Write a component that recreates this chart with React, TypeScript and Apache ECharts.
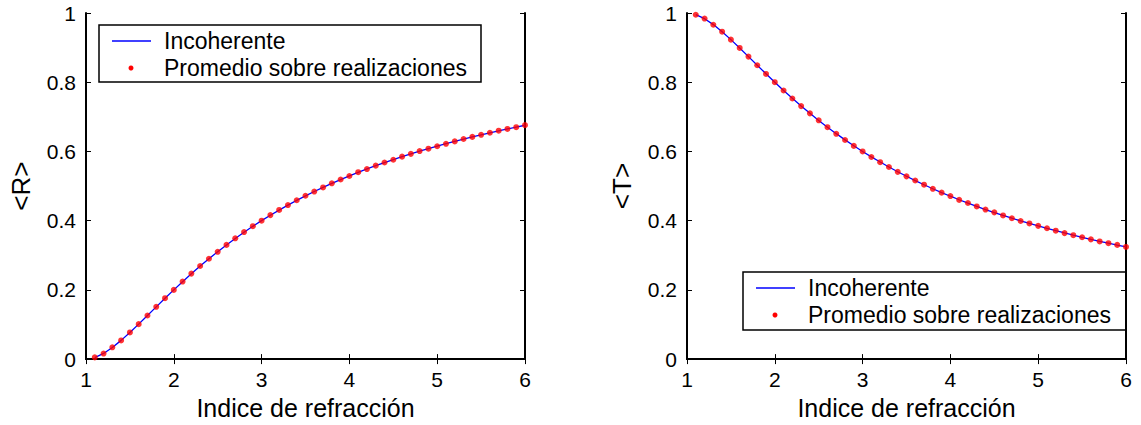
import React, { useEffect, useRef } from "react";
import * as echarts from "echarts";

const indices = [
  1.1, 1.2, 1.3, 1.4, 1.5, 1.6, 1.7, 1.8, 1.9, 2.0,
  2.1, 2.2, 2.3, 2.4, 2.5, 2.6, 2.7, 2.8, 2.9, 3.0,
  3.1, 3.2, 3.3, 3.4, 3.5, 3.6, 3.7, 3.8, 3.9, 4.0,
  4.1, 4.2, 4.3, 4.4, 4.5, 4.6, 4.7, 4.8, 4.9, 5.0,
  5.1, 5.2, 5.3, 5.4, 5.5, 5.6, 5.7, 5.8, 5.9, 6.0,
];

const rIncoherente = [
  0.0045, 0.0164, 0.0335, 0.0541, 0.0769, 0.1011, 0.126, 0.1509, 0.1757, 0.2,
  0.2237, 0.2466, 0.2687, 0.2899, 0.3103, 0.3299, 0.3486, 0.3665, 0.3836, 0.4,
  0.4156, 0.4306, 0.4449, 0.4586, 0.4717, 0.4842, 0.4963, 0.5078, 0.5188, 0.5294,
  0.5396, 0.5494, 0.5587, 0.5678, 0.5765, 0.5848, 0.5929, 0.6007, 0.6082, 0.6154,
  0.6224, 0.6291, 0.6356, 0.6419, 0.648, 0.6539, 0.6596, 0.6651, 0.6705, 0.6757,
];

const rPromedio = [
  0.005, 0.016, 0.034, 0.054, 0.077, 0.101, 0.126, 0.151, 0.176, 0.2,
  0.224, 0.247, 0.269, 0.29, 0.31, 0.33, 0.349, 0.367, 0.384, 0.4,
  0.416, 0.431, 0.445, 0.459, 0.472, 0.484, 0.496, 0.508, 0.519, 0.529,
  0.54, 0.549, 0.559, 0.568, 0.576, 0.585, 0.593, 0.601, 0.608, 0.615,
  0.622, 0.629, 0.636, 0.642, 0.648, 0.654, 0.66, 0.665, 0.67, 0.676,
];

const tIncoherente = [
  0.9955, 0.9836, 0.9665, 0.9459, 0.9231, 0.8989, 0.874, 0.8491, 0.8243, 0.8,
  0.7763, 0.7534, 0.7313, 0.7101, 0.6897, 0.6701, 0.6514, 0.6335, 0.6164, 0.6,
  0.5844, 0.5694, 0.5551, 0.5414, 0.5283, 0.5158, 0.5037, 0.4922, 0.4812, 0.4706,
  0.4604, 0.4506, 0.4413, 0.4322, 0.4235, 0.4152, 0.4071, 0.3993, 0.3918, 0.3846,
  0.3776, 0.3709, 0.3644, 0.3581, 0.352, 0.3461, 0.3404, 0.3349, 0.3295, 0.3243,
];

const tPromedio = [
  0.995, 0.984, 0.966, 0.946, 0.923, 0.899, 0.874, 0.849, 0.824, 0.8,
  0.776, 0.753, 0.731, 0.71, 0.69, 0.67, 0.651, 0.633, 0.616, 0.6,
  0.584, 0.569, 0.555, 0.541, 0.528, 0.516, 0.504, 0.492, 0.481, 0.471,
  0.46, 0.451, 0.441, 0.432, 0.424, 0.415, 0.407, 0.399, 0.392, 0.385,
  0.378, 0.371, 0.364, 0.358, 0.352, 0.346, 0.34, 0.335, 0.33, 0.324,
];

const legendNames = ["Incoherente", "Promedio sobre realizaciones"];
const xName = "Indice de refracción";
const yNames = ["<R>", "<T>"];

const FONT = "'Liberation Sans', Arial, Helvetica, sans-serif";

const pairs = (xs: number[], ys: number[]) => xs.map((x, i) => [x, ys[i]]);

export default function App() {
  const ref = useRef<HTMLDivElement>(null);

  useEffect(() => {
    if (!ref.current) return;
    const chart = echarts.init(ref.current, null, { renderer: "svg" });

    const axisLine = { show: true, lineStyle: { color: "#000", width: 2 } };
    const tick = { show: true, inside: true, length: 5, lineStyle: { color: "#000", width: 1 } };
    const label = { color: "#000", fontSize: 21, fontFamily: FONT };

    const grids = [
      { left: 86, top: 13, width: 439, height: 347 },
      { left: 687, top: 13, width: 439, height: 347 },
    ];

    const xAxis: any[] = [];
    const yAxis: any[] = [];
    grids.forEach((_, g) => {
      xAxis.push({
        type: "value", gridIndex: g, min: 1, max: 6, interval: 1, position: "bottom",
        axisLine, axisTick: tick, splitLine: { show: false },
        axisLabel: { ...label, margin: 10 },
        name: xName, nameLocation: "middle", nameGap: 30,
        nameTextStyle: { color: "#000", fontSize: 25, fontFamily: FONT },
      });
      xAxis.push({
        type: "value", gridIndex: g, min: 1, max: 6, interval: 1, position: "top",
        axisLine, axisTick: tick, splitLine: { show: false }, axisLabel: { show: false },
      });
      yAxis.push({
        type: "value", gridIndex: g, min: 0, max: 1, interval: 0.2, position: "left",
        axisLine, axisTick: tick, splitLine: { show: false },
        axisLabel: { ...label, margin: 10 },
        name: yNames[g], nameLocation: "middle", nameGap: 52, nameRotate: 90,
        nameTextStyle: { color: "#000", fontSize: 26, fontFamily: FONT },
      });
      yAxis.push({
        type: "value", gridIndex: g, min: 0, max: 1, interval: 0.2, position: "right",
        axisLine, axisTick: tick, splitLine: { show: false }, axisLabel: { show: false },
      });
    });

    const lineSeries = (g: number, ys: number[]) => ({
      type: "line", name: legendNames[0], xAxisIndex: g * 2, yAxisIndex: g * 2,
      data: pairs(indices, ys), showSymbol: false, symbol: "none",
      lineStyle: { color: "#0000ff", width: 1.3 }, z: 2,
    });
    const dotSeries = (g: number, ys: number[]) => ({
      type: "scatter", name: legendNames[1], xAxisIndex: g * 2, yAxisIndex: g * 2,
      data: pairs(indices, ys), symbol: "circle", symbolSize: 6,
      itemStyle: { color: "#ff0000" }, z: 3,
    });

    const legendBox = (x: number, y: number, w: number, h: number) => ({
      type: "group", x, y, z: 100,
      children: [
        { type: "rect", shape: { x: 0, y: 0, width: w, height: h }, style: { fill: "#fff", stroke: "#000", lineWidth: 1.5 } },
        { type: "line", shape: { x1: 13, y1: 16, x2: 52, y2: 16 }, style: { stroke: "#0000ff", lineWidth: 1.3 } },
        { type: "circle", shape: { cx: 32, cy: 43, r: 2.5 }, style: { fill: "#ff0000" } },
        { type: "text", x: 65, y: 16, style: { text: legendNames[0], fill: "#000", fontSize: 23, fontFamily: FONT, verticalAlign: "middle", align: "left" } },
        { type: "text", x: 65, y: 43, style: { text: legendNames[1], fill: "#000", fontSize: 23, fontFamily: FONT, verticalAlign: "middle", align: "left" } },
      ],
    });

    chart.setOption({
      animation: false,
      backgroundColor: "#fff",
      grid: grids,
      xAxis,
      yAxis,
      series: [
        lineSeries(0, rIncoherente),
        dotSeries(0, rPromedio),
        lineSeries(1, tIncoherente),
        dotSeries(1, tPromedio),
      ],
      graphic: [legendBox(99, 25, 382, 57), legendBox(743, 272, 383, 58)],
    });

    return () => chart.dispose();
  }, []);

  return (
    <div
      ref={ref}
      style={{ position: "fixed", left: 0, top: 0, width: 1141, height: 425, background: "#fff" }}
    />
  );
}
